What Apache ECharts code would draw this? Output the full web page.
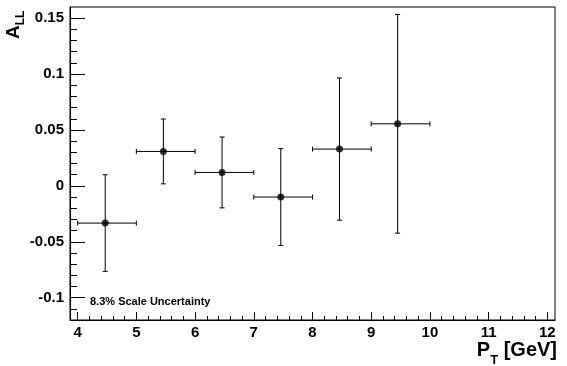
<!DOCTYPE html>
<html><head><meta charset="utf-8">
<script src="https://cdn.jsdelivr.net/npm/echarts@6/dist/echarts.min.js"></script>
<style>html,body{margin:0;padding:0;background:#fff}#c{width:567px;height:366px}</style>
</head><body><div id="c"></div>
<script>
// ---- data ----
const xVals = [4.47, 5.46, 6.46, 7.46, 8.46, 9.45];
const xLow  = [4, 5, 6, 7, 8, 9];
const xHigh = [5, 6, 7, 8, 9, 10];
const yVals = [-0.0333, 0.0308, 0.0120, -0.0100, 0.0329, 0.0555];
const yErr  = [0.0432, 0.0290, 0.0317, 0.0433, 0.0636, 0.0978];
const xTicks = [4, 5, 6, 7, 8, 9, 10, 11, 12];
const yTicks = [-0.1, -0.05, 0, 0.05, 0.1, 0.15];
const xRange = [3.87, 12.13];
const yRange = [-0.12, 0.16];
const xMinorStep = 0.2, yMinorStep = 0.01;
const noteText = '8.3% Scale Uncertainty';

const FONT = '"Liberation Sans", Arial, Helvetica, sans-serif';

function minorValues(lo, hi, step, majors) {
  const out = [];
  const start = Math.ceil(lo / step - 1e-9), end = Math.floor(hi / step + 1e-9);
  for (let i = start; i <= end; i++) {
    const v = +(i * step).toFixed(6);
    if (v <= lo + 1e-9 || v >= hi - 1e-9) continue;
    if (!majors.some(m => Math.abs(m - v) < 1e-9)) out.push(v);
  }
  return out;
}
const xMinor = minorValues(xRange[0], xRange[1], xMinorStep, xTicks);
const yMinor = minorValues(yRange[0], yRange[1], yMinorStep, yTicks);

const errData = xVals.map((x, i) => [x, yVals[i], xLow[i], xHigh[i], yErr[i]]);
const ptData = xVals.map((x, i) => [x, yVals[i]]);

function renderErr(params, api) {
  const x = api.value(0), y = api.value(1), xl = api.value(2), xh = api.value(3), e = api.value(4);
  const c = api.coord([x, y]);
  const t = api.coord([x, y + e]);
  const b = api.coord([x, y - e]);
  const l = api.coord([xl, y]);
  const r = api.coord([xh, y]);
  const cap = 2.5;
  const st = { stroke: '#000', lineWidth: 1 };
  return {
    type: 'group', children: [
      { type: 'line', shape: { x1: c[0], y1: t[1], x2: c[0], y2: b[1] }, style: st },
      { type: 'line', shape: { x1: c[0] - cap, y1: t[1], x2: c[0] + cap, y2: t[1] }, style: st },
      { type: 'line', shape: { x1: c[0] - cap, y1: b[1], x2: c[0] + cap, y2: b[1] }, style: st },
      { type: 'line', shape: { x1: l[0], y1: c[1], x2: r[0], y2: c[1] }, style: st },
      { type: 'line', shape: { x1: l[0], y1: c[1] - cap, x2: l[0], y2: c[1] + cap }, style: st },
      { type: 'line', shape: { x1: r[0], y1: c[1] - cap, x2: r[0], y2: c[1] + cap }, style: st }
    ]
  };
}

const lab = { fontSize: 15, fontWeight: 'bold', color: '#000', fontFamily: FONT };
const chart = echarts.init(document.getElementById('c'), null, { renderer: 'canvas' });
chart.setOption({
  animation: false,
  backgroundColor: '#fff',
  grid: { left: 70, right: 12, top: 7, bottom: 46, show: true, borderColor: '#000', borderWidth: 1,
          containLabel: false, outerBoundsMode: 'none' },
  xAxis: [
    { type: 'value', min: xRange[0], max: xRange[1], position: 'bottom',
      axisLine: { show: true, onZero: false, lineStyle: { color: '#000', width: 1 } },
      axisTick: { show: true, inside: true, length: 8, customValues: xTicks, lineStyle: { color: '#000', width: 1 } },
      axisLabel: Object.assign({ customValues: xTicks, margin: 5 }, lab),
      splitLine: { show: false } },
    { type: 'value', min: xRange[0], max: xRange[1], position: 'bottom',
      axisLine: { show: false, onZero: false },
      axisTick: { show: true, inside: true, length: 4, customValues: xMinor, lineStyle: { color: '#000', width: 1 } },
      axisLabel: { show: false }, splitLine: { show: false } }
  ],
  yAxis: [
    { type: 'value', min: yRange[0], max: yRange[1], position: 'left',
      axisLine: { show: true, onZero: false, lineStyle: { color: '#000', width: 1 } },
      axisTick: { show: true, inside: true, length: 15, customValues: yTicks, lineStyle: { color: '#000', width: 1 } },
      axisLabel: Object.assign({ customValues: yTicks, margin: 6 }, lab),
      splitLine: { show: false } },
    { type: 'value', min: yRange[0], max: yRange[1], position: 'left',
      axisLine: { show: false, onZero: false },
      axisTick: { show: true, inside: true, length: 7, customValues: yMinor, lineStyle: { color: '#000', width: 1 } },
      axisLabel: { show: false }, splitLine: { show: false } }
  ],
  series: [
    { type: 'custom', xAxisIndex: 0, yAxisIndex: 0, renderItem: renderErr, data: errData, z: 2 },
    { type: 'scatter', xAxisIndex: 0, yAxisIndex: 0, data: ptData, symbol: 'circle', symbolSize: 7,
      itemStyle: { color: '#000' }, z: 3 }
  ],
  graphic: [
    { type: 'text', x: 4, y: 39, rotation: Math.PI / 2,
      style: { text: '{a|A}{s|LL}', align: 'left', verticalAlign: 'top',
        rich: {
          a: { fontSize: 19, fontWeight: 'bold', fontFamily: FONT, lineHeight: 19, verticalAlign: 'top', fill: '#000' },
          s: { fontSize: 12, fontWeight: 'bold', fontFamily: FONT, lineHeight: 12, verticalAlign: 'top', padding: [11, 0, 0, 0], fill: '#000' }
        } } },
    { type: 'text', x: 557, y: 340,
      style: { text: '{a|P}{s|T}{a| [GeV]}', align: 'right', verticalAlign: 'top',
        rich: {
          a: { fontSize: 20, fontWeight: 'bold', fontFamily: FONT, lineHeight: 20, verticalAlign: 'top', fill: '#000' },
          s: { fontSize: 13, fontWeight: 'bold', fontFamily: FONT, lineHeight: 13, verticalAlign: 'top', padding: [14, 0, 0, 0], fill: '#000' }
        } } },
    { type: 'text', x: 90, y: 301.5,
      style: { text: noteText, fontSize: 11, fontWeight: 'bold', fontFamily: FONT, fill: '#000',
               align: 'left', verticalAlign: 'middle' } }
  ]
});
</script>
</body></html>
